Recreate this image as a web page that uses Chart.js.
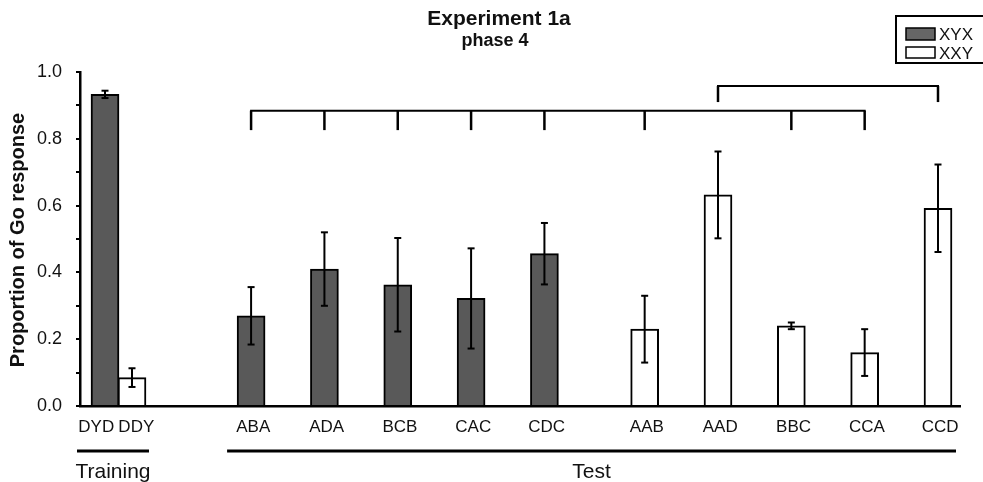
<!DOCTYPE html>
<html>
<head>
<meta charset="utf-8">
<script src="https://cdn.jsdelivr.net/npm/chart.js@4.4.1/dist/chart.umd.min.js"></script>
<style>
  html, body { margin: 0; padding: 0; background: #fff; }
  #graf { display: block; }
</style>
</head>
<body>
<canvas id="graf" width="983" height="482"></canvas>
<script>
// categorias e valores
const treino_labels = ['DYD', 'DDY']
const treino_media = [0.933, 0.085]
const treino_erro = [0.011, 0.028]

const xyx_labels = ['ABA', 'ADA', 'BCB', 'CAC', 'CDC']
const xyx_media = [0.270, 0.410, 0.363, 0.322, 0.456]
const xyx_erro = [0.086, 0.110, 0.140, 0.150, 0.092]

const xxy_labels = ['AAB', 'AAD', 'BBC', 'CCA', 'CCD']
const xxy_media = [0.230, 0.632, 0.240, 0.160, 0.592]
const xxy_erro = [0.100, 0.130, 0.010, 0.070, 0.131]

const y_ticks = [0, 0.2, 0.4, 0.6, 0.8, 1.0]

// colchetes de comparação no topo
const colchete_baixo = ['ABA', 'ADA', 'BCB', 'CAC', 'CDC', 'AAB', 'BBC', 'CCA']
const colchete_cima = ['AAD', 'CCD']

// layout (posições no eixo x, em unidades do eixo)
const treino_ini = 0.341, treino_passo = 0.368
const xyx_ini = 2.333, xxy_ini = 7.70, teste_passo = 1
const fonte = "'Liberation Sans', Arial, sans-serif"
const cinza = '#595959'

let pos = {}
treino_labels.forEach((l, i) => pos[l] = treino_ini + i * treino_passo)
xyx_labels.forEach((l, i) => pos[l] = xyx_ini + i * teste_passo)
xxy_labels.forEach((l, i) => pos[l] = xxy_ini + i * teste_passo)

// rótulos do treino ficam um pouco mais afastados que as barras
const treino_centro = (pos['DYD'] + pos['DDY']) / 2 - 0.03
const tick_labels = treino_labels.concat(xyx_labels, xxy_labels)
const tick_pos = [treino_centro - 0.273, treino_centro + 0.273]
  .concat(xyx_labels.map(l => pos[l] + 0.03), xxy_labels.map(l => pos[l] + 0.03))

const serie_xyx = [{x: pos['DYD'], y: treino_media[0]}]
  .concat(xyx_labels.map((l, i) => ({x: pos[l], y: xyx_media[i]})))
const serie_xxy = [{x: pos['DDY'], y: treino_media[1]}]
  .concat(xxy_labels.map((l, i) => ({x: pos[l], y: xxy_media[i]})))
const erros = [
  [treino_erro[0]].concat(xyx_erro),
  [treino_erro[1]].concat(xxy_erro)
]

function linha(ctx, x1, y1, x2, y2) {
  ctx.beginPath()
  ctx.moveTo(x1, y1)
  ctx.lineTo(x2, y2)
  ctx.stroke()
}

const extras = {
  id: 'extras',
  afterDatasetsDraw(chart) {
    const ctx = chart.ctx
    const xs = chart.scales.x, ys = chart.scales.y
    ctx.save()
    ctx.strokeStyle = '#000'
    ctx.lineWidth = 2

    // barras de erro
    chart.data.datasets.forEach((ds, i) => {
      chart.getDatasetMeta(i).data.forEach((bar, j) => {
        const v = ds.data[j].y, e = erros[i][j]
        const yt = ys.getPixelForValue(v + e), yb = ys.getPixelForValue(v - e)
        linha(ctx, bar.x, yt, bar.x, yb)
        linha(ctx, bar.x - 3.5, yt, bar.x + 3.5, yt)
        linha(ctx, bar.x - 3.5, yb, bar.x + 3.5, yb)
      })
    })

    // colchetes
    function colchete(nomes, nivel, queda) {
      const yl = ys.getPixelForValue(nivel), yq = ys.getPixelForValue(queda)
      const xp = nomes.map(n => xs.getPixelForValue(pos[n]))
      ctx.lineWidth = 2
      linha(ctx, xp[0] - 1, yl, xp[xp.length - 1] + 1, yl)
      ctx.lineWidth = 2.5
      xp.forEach(x => linha(ctx, x, yl, x, yq))
    }
    colchete(colchete_baixo, 0.884, 0.826)
    colchete(colchete_cima, 0.958, 0.91)

    // linhas de grupo e textos
    ctx.lineWidth = 3
    const tr1 = xs.getPixelForValue(pos['DYD']) - 28
    const tr2 = xs.getPixelForValue(pos['DDY']) + 17
    const te1 = xs.getPixelForValue(pos['ABA']) - 24
    const te2 = xs.getPixelForValue(pos['CCD']) + 18
    linha(ctx, tr1, 451, tr2, 451)
    linha(ctx, te1, 451, te2, 451)
    ctx.fillStyle = '#111'
    ctx.textAlign = 'center'
    ctx.textBaseline = 'alphabetic'
    ctx.font = '21px ' + fonte
    ctx.fillText('Training', (tr1 + tr2) / 2, 478)
    ctx.fillText('Test', (te1 + te2) / 2, 478)

    // título
    ctx.font = 'bold 21px ' + fonte
    ctx.fillText('Experiment 1a', 499, 25)
    ctx.font = 'bold 18px ' + fonte
    ctx.fillText('phase 4', 495, 46)

    // título do eixo y
    ctx.save()
    ctx.translate(24, 240)
    ctx.rotate(-Math.PI / 2)
    ctx.font = 'bold 20px ' + fonte
    ctx.fillText('Proportion of Go response', 0, 0)
    ctx.restore()

    // legenda
    ctx.lineWidth = 2
    ctx.strokeRect(896, 16, 100, 47)
    ctx.lineWidth = 1.5
    ctx.fillStyle = '#666'
    ctx.fillRect(906, 28, 29, 12)
    ctx.strokeRect(906, 28, 29, 12)
    ctx.fillStyle = '#fff'
    ctx.fillRect(906, 47, 29, 11)
    ctx.strokeRect(906, 47, 29, 11)
    ctx.fillStyle = '#111'
    ctx.textAlign = 'left'
    ctx.font = '17px ' + fonte
    ctx.fillText(chart.data.datasets[0].label, 939, 40)
    ctx.fillText(chart.data.datasets[1].label, 939, 59)
    ctx.restore()
  }
}

let graf = new Chart(document.getElementById('graf'), {
  type: 'bar',
  data: {
    datasets: [{
      label: 'XYX',
      data: serie_xyx,
      backgroundColor: cinza,
      borderColor: '#000',
      borderWidth: 2,
      barThickness: 28,
      grouped: false
    }, {
      label: 'XXY',
      data: serie_xxy,
      backgroundColor: '#fff',
      borderColor: '#000',
      borderWidth: 2,
      barThickness: 28,
      grouped: false
    }]
  },
  options: {
    responsive: false,
    animation: false,
    layout: { padding: { top: 72, right: 23, left: 0, bottom: 0 } },
    plugins: { legend: { display: false }, tooltip: { enabled: false } },
    scales: {
      x: {
        type: 'linear',
        offset: false,
        min: 0,
        max: 12,
        afterBuildTicks: s => { s.ticks = tick_pos.map(v => ({ value: v })) },
        afterFit: s => { s.height = 76 },
        ticks: {
          callback: (v, i) => tick_labels[i],
          autoSkip: false,
          maxRotation: 0,
          color: '#111',
          padding: 11,
          font: { family: fonte, size: 17 }
        },
        grid: { drawOnChartArea: false, drawTicks: false },
        border: { color: '#000', width: 2.5 }
      },
      y: {
        min: 0,
        max: 1,
        afterBuildTicks: s => {
          let t = []
          for (let k = 0; k <= 10; k++) t.push({ value: k / 10 })
          s.ticks = t
        },
        afterFit: s => { s.width = 80 },
        ticks: {
          callback: v => y_ticks.some(t => Math.abs(t - v) < 1e-6) ? v.toFixed(1) : '',
          autoSkip: false,
          color: '#111',
          padding: 14,
          font: { family: fonte, size: 18 }
        },
        grid: { drawOnChartArea: false, drawTicks: true, tickLength: 4, color: '#000', lineWidth: 2 },
        border: { color: '#000', width: 2.5 }
      }
    }
  },
  plugins: [extras]
})
</script>
</body>
</html>
